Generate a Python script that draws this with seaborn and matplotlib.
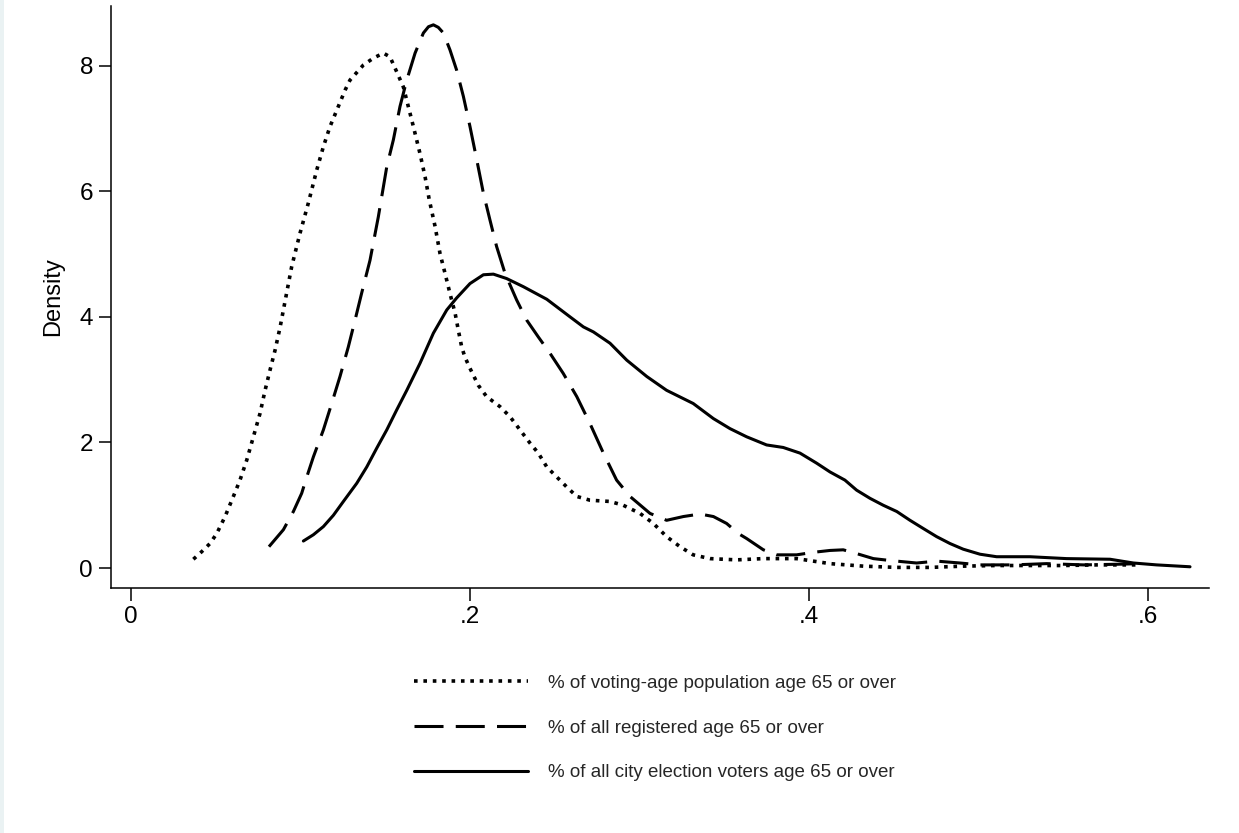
import matplotlib
matplotlib.use("Agg")
import matplotlib.pyplot as plt
import matplotlib.patches as mpatches
import pandas as pd
import seaborn as sns

# series (x = share aged 65+, y = density)
labels = ["% of voting-age population age 65 or over",
          "% of all registered age 65 or over",
          "% of all city election voters age 65 or over"]

vap_x = [0.0368, 0.0417, 0.0466, 0.0506, 0.0555, 0.0604, 0.0643, 0.0683, 0.0722, 0.0761,
         0.0791, 0.082, 0.085, 0.088, 0.0914, 0.0948, 0.0997, 0.1046, 0.1096, 0.1135,
         0.1174, 0.1214, 0.1263, 0.1292, 0.1371, 0.143, 0.1489, 0.1528, 0.1568, 0.1607,
         0.1636, 0.1666, 0.1705, 0.1735, 0.176, 0.1794, 0.1823, 0.1853, 0.1882, 0.1912,
         0.1931, 0.1951, 0.197, 0.2, 0.2049, 0.2098, 0.2177, 0.2236, 0.2295, 0.2354,
         0.2403, 0.2453, 0.2512, 0.2571, 0.263, 0.2708, 0.2826, 0.2904, 0.3003, 0.3082,
         0.316, 0.3239, 0.3317, 0.3416, 0.3573, 0.3731, 0.3927, 0.4124, 0.432, 0.4518,
         0.4714, 0.491, 0.5107, 0.5304, 0.55, 0.57, 0.595]
vap_y = [0.14, 0.26, 0.39, 0.55, 0.82, 1.14, 1.40, 1.72, 2.09, 2.46,
         2.83, 3.15, 3.47, 3.84, 4.32, 4.80, 5.33, 5.81, 6.34, 6.71,
         7.03, 7.29, 7.61, 7.77, 8.01, 8.12, 8.20, 8.14, 7.90, 7.66,
         7.35, 7.03, 6.60, 6.23, 5.86, 5.44, 5.01, 4.69, 4.37, 4.06,
         3.79, 3.52, 3.36, 3.18, 2.91, 2.73, 2.57, 2.41, 2.20, 1.99,
         1.83, 1.61, 1.45, 1.29, 1.14, 1.08, 1.06, 1.00, 0.87, 0.71,
         0.50, 0.34, 0.21, 0.15, 0.13, 0.15, 0.15, 0.07, 0.03, 0.01,
         0.01, 0.03, 0.04, 0.04, 0.04, 0.05, 0.05]

reg_x = [0.0814, 0.0899, 0.0958, 0.1007, 0.1037, 0.1076, 0.1135, 0.1184, 0.1233, 0.1282,
         0.1322, 0.1361, 0.141, 0.1459, 0.1509, 0.1548, 0.1587, 0.1627, 0.1676, 0.1725,
         0.1755, 0.1784, 0.1813, 0.1843, 0.1882, 0.1921, 0.1961, 0.2, 0.204, 0.2079,
         0.2118, 0.2157, 0.2207, 0.2275, 0.2334, 0.2403, 0.2472, 0.255, 0.263, 0.2708,
         0.2787, 0.2865, 0.2944, 0.3062, 0.316, 0.3259, 0.3357, 0.3436, 0.3514, 0.3583,
         0.3632, 0.3731, 0.381, 0.3927, 0.4025, 0.4124, 0.4202, 0.4281, 0.438, 0.4478,
         0.4635, 0.4753, 0.4891, 0.5009, 0.5206, 0.5402, 0.5619, 0.5816, 0.595]
reg_y = [0.34, 0.61, 0.90, 1.19, 1.45, 1.77, 2.20, 2.62, 3.05, 3.52,
         3.95, 4.38, 4.90, 5.59, 6.39, 6.82, 7.35, 7.77, 8.20, 8.52,
         8.62, 8.65, 8.61, 8.52, 8.25, 7.93, 7.51, 7.03, 6.50, 5.97,
         5.54, 5.12, 4.69, 4.27, 3.95, 3.68, 3.42, 3.10, 2.73, 2.30,
         1.83, 1.40, 1.14, 0.87, 0.76, 0.82, 0.86, 0.82, 0.71, 0.55,
         0.47, 0.29, 0.21, 0.21, 0.25, 0.28, 0.29, 0.23, 0.15, 0.12,
         0.08, 0.11, 0.08, 0.05, 0.05, 0.07, 0.05, 0.06, 0.07]

city_x = [0.1017, 0.1076, 0.1135, 0.1194, 0.1253, 0.1332, 0.1391, 0.145, 0.1509, 0.1568,
          0.1627, 0.1705, 0.1784, 0.1863, 0.1921, 0.2, 0.2079, 0.2138, 0.2216, 0.2315,
          0.2453, 0.259, 0.2669, 0.2728, 0.2826, 0.2925, 0.3043, 0.316, 0.3317, 0.3436,
          0.3534, 0.3632, 0.375, 0.3848, 0.3947, 0.4045, 0.4124, 0.4212, 0.4281, 0.436,
          0.4438, 0.4518, 0.4596, 0.4674, 0.4753, 0.4832, 0.491, 0.5009, 0.5107, 0.5304,
          0.552, 0.5776, 0.5914, 0.6051, 0.6248]
city_y = [0.43, 0.53, 0.66, 0.84, 1.06, 1.35, 1.61, 1.91, 2.20, 2.52,
          2.83, 3.26, 3.74, 4.11, 4.30, 4.53, 4.67, 4.68, 4.61, 4.48,
          4.28, 4.00, 3.84, 3.76, 3.58, 3.31, 3.05, 2.83, 2.62, 2.38,
          2.22, 2.09, 1.96, 1.92, 1.83, 1.67, 1.53, 1.40, 1.24, 1.11,
          1.00, 0.90, 0.76, 0.63, 0.50, 0.39, 0.30, 0.22, 0.18, 0.18,
          0.15, 0.14, 0.08, 0.05, 0.02]

x_ticks = [0, 0.2, 0.4, 0.6]
x_ticklabels = ["0", ".2", ".4", ".6"]
y_ticks = [0, 2, 4, 6, 8]

# ----------------------------------------------

df = pd.concat([
    pd.DataFrame({"x": vap_x, "y": vap_y, "serie": labels[0]}),
    pd.DataFrame({"x": reg_x, "y": reg_y, "serie": labels[1]}),
    pd.DataFrame({"x": city_x, "y": city_y, "serie": labels[2]}),
], ignore_index=True)

sns.set_theme(style="ticks")
plt.rcParams['font.family'] = ['Liberation Sans', 'DejaVu Sans']

fig = plt.figure(figsize=(12.39, 8.33), dpi=100)
fig.patch.set_facecolor("white")
# fine tinted strip on the left edge of the graph region
fig.patches.append(mpatches.Rectangle((0, 0), 4 / 1239, 1, transform=fig.transFigure,
                                      facecolor="#eaf2f3", edgecolor="none"))

ax = fig.add_axes([111 / 1239, 1 - 588 / 833, 1098 / 1239, 582 / 833])

sns.lineplot(data=df, x="x", y="y", hue="serie", style="serie",
             hue_order=labels, style_order=labels,
             palette=["black"] * 3,
             dashes={labels[0]: (1, 2.1), labels[1]: (9.5, 4), labels[2]: ""},
             linewidth=2.2, legend=False, sort=False, ax=ax)
# the dotted line reads a bit heavier in the original
ax.lines[0].set_linewidth(2.6)
ax.lines[0].set_dashes((1, 1.6))

ax.set_xlim(-0.0118, 0.636)
ax.set_ylim(-0.318, 8.95)
ax.set_xticks(x_ticks)
ax.set_xticklabels(x_ticklabels)
ax.set_yticks(y_ticks)
ax.set_yticklabels([str(v) for v in y_ticks])
ax.tick_params(axis="both", direction="out", length=9, width=1.1, pad=4,
               colors="black", labelsize=17.5)
ax.tick_params(axis="y", labelrotation=0)

ax.set_xlabel("")
ax.set_ylabel("Density", fontsize=17, color="black")
ax.yaxis.set_label_coords(-0.043, 0.5)

sns.despine(ax=ax)
for s in ["left", "bottom"]:
    ax.spines[s].set_linewidth(1.1)
    ax.spines[s].set_color("black")

fig.legend(ax.lines, labels, loc="center", bbox_to_anchor=(655 / 1239, 1 - 728 / 833),
           frameon=False, ncol=1, fontsize=13.5, handlelength=6.1, handletextpad=1.05,
           labelspacing=1.47)

plt.savefig("out.png", dpi=100)
